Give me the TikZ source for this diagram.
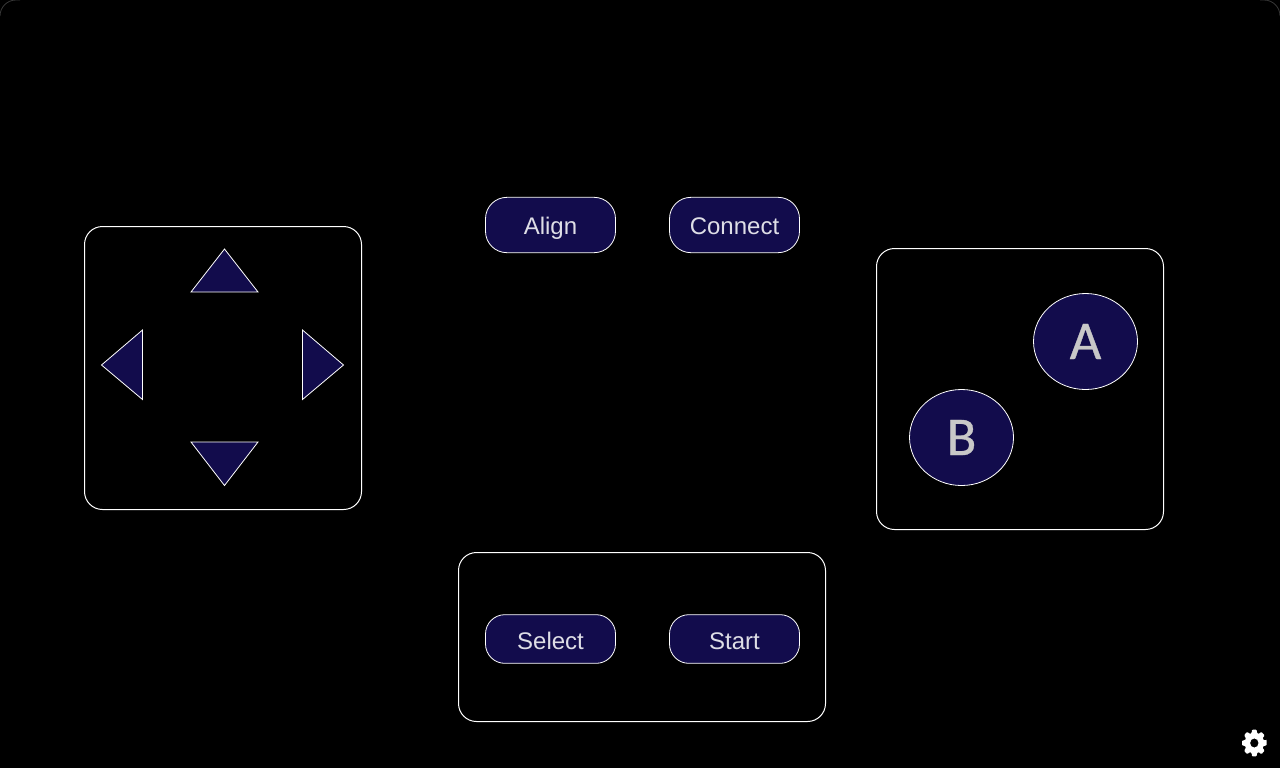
\documentclass[tikz,border=0pt]{standalone}
\usepackage{fontspec}
\setmainfont{Liberation Sans}
\newfontfamily\gillfont[FakeBold=0.6]{Carlito}
\usetikzlibrary{shapes.geometric}
\definecolor{navy}{HTML}{120C4C}
\definecolor{labelc}{HTML}{DEDEE6}
\definecolor{bigc}{HTML}{C8C8C8}
\tikzset{
  panel/.style={draw=white,line width=0.75pt,rounded corners=13.5pt},
  pill/.style={draw=white,fill=navy,line width=0.6pt,rounded corners=16pt,text=labelc,font=\fontsize{18pt}{18pt}\selectfont,inner sep=0pt,anchor=center,minimum width=97.5pt,minimum height=41.5pt,text height=15.5pt,text depth=1.5pt},
  lowpill/.style={pill,minimum height=36.5pt,rounded corners=14.5pt,text height=17pt,text depth=1pt},
  tri/.style={draw=white,fill=navy,line width=0.6pt,line join=miter},
  round btn/.style={draw=white,fill=navy,line width=0.6pt,ellipse,minimum width=78pt,minimum height=72pt,inner sep=0pt,text=bigc,font=\gillfont\fontsize{41pt}{41pt}\selectfont},
  corner/.style={draw=white!22!black,line width=0.6pt}
}
\begin{document}
\begin{tikzpicture}[x=0.75pt,y=-0.75pt]
\useasboundingbox (0,0) rectangle (1280,768);
\fill[black] (0,0) rectangle (1280,768);
% faint window corners
\draw[corner] (0,16) arc[start angle=180,end angle=270,radius=16] -- (20,0);
\draw[corner] (1260,0) -- (1264,0) arc[start angle=270,end angle=360,radius=16];
% panels
\draw[panel] (84.5,226.5) rectangle (361.5,509.5);
\draw[panel] (876.5,248.5) rectangle (1163.5,529.5);
\draw[panel] (458.5,552.5) rectangle (825.5,721.5);
% d-pad
\draw[tri] (224.5,249) -- (258,292) -- (191,292) -- cycle;
\draw[tri] (224.5,485.5) -- (258,442) -- (191,442) -- cycle;
\draw[tri] (101.5,365) -- (142.5,330) -- (142.5,399.5) -- cycle;
\draw[tri] (343.5,365) -- (302.5,330) -- (302.5,399.5) -- cycle;
% pills
\node[pill] (align) at (550.5,225) {Align};
\node[pill] (connect) at (734.5,225) {Connect};
\node[lowpill] (select) at (550.5,639) {Select};
\node[lowpill] (start) at (734.5,639) {Start};
% round buttons
\node[round btn] (a) at (1085.5,341.5) {A};
\node[round btn] (b) at (961.5,437.5) {B};
% gear
\begin{scope}[shift={(1254.3,743)},xscale=0.92]
\fill[white,even odd rule,rounded corners=0.7pt]
  (-13:13.6)
  \foreach \t in {0,45,...,315}{
    -- ({\t-11}:13.6) -- ({\t+11}:13.6) -- ({\t+16}:10.3) -- ({\t+29}:10.3)
  } -- cycle
  (0,0) circle[radius=4.6];
\end{scope}
\end{tikzpicture}
\end{document}
